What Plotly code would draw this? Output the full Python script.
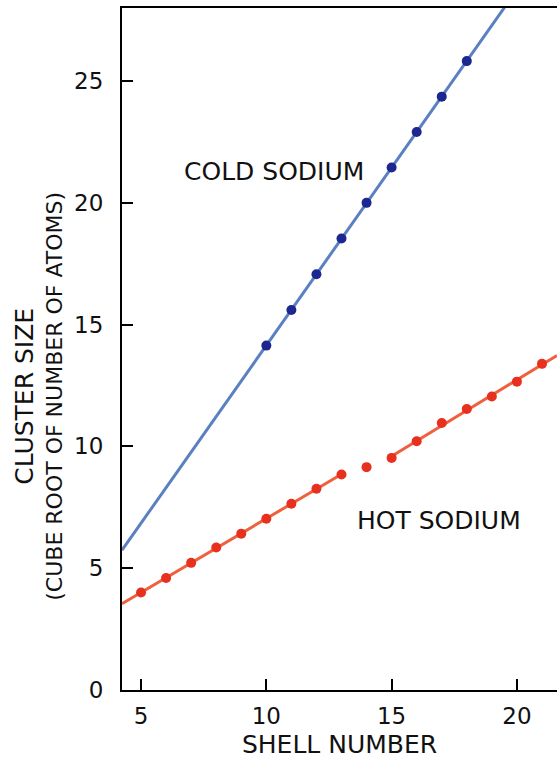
import numpy as np
import plotly.graph_objects as go

# Data
cold_shell = [10, 11, 12, 13, 14, 15, 16, 17, 18]
cold_size = [14.14, 15.6, 17.07, 18.54, 20.0, 21.45, 22.91, 24.36, 25.82]

hot_shell = [5, 6, 7, 8, 9, 10, 11, 12, 13, 14, 15, 16, 17, 18, 19, 20, 21]
hot_size = [4.0, 4.6, 5.22, 5.85, 6.42, 7.03, 7.65, 8.26, 8.85, 9.15,
            9.53, 10.21, 10.96, 11.54, 12.05, 12.66, 13.39]

x_ticks = [5, 10, 15, 20]
y_ticks = [0, 5, 10, 15, 20, 25]

X_RANGE = [4.24, 21.6]
Y_RANGE = [0, 28]

COLD_LINE = "#5b80c2"
COLD_MARK = "#1c2790"
HOT_LINE = "#f0603c"
HOT_MARK = "#e8301f"
FONT = "DejaVu Sans"
TXT = "#111111"

fig = go.Figure()

# Fitted lines (computed from the data)
c_fit = np.polyfit(cold_shell, cold_size, 1)
cx = np.array(X_RANGE)
fig.add_trace(go.Scatter(x=cx, y=np.polyval(c_fit, cx), mode="lines",
                         line=dict(color=COLD_LINE, width=3), hoverinfo="skip"))

hs = np.array(hot_shell)
hv = np.array(hot_size)
seg1 = hs <= 13
seg2 = hs >= 15
h1 = np.polyfit(hs[seg1], hv[seg1], 1)
h2 = np.polyfit(hs[seg2], hv[seg2], 1)
x1 = np.array([X_RANGE[0], hs[seg1].max()])
x2 = np.array([hs[seg2].min(), X_RANGE[1]])
fig.add_trace(go.Scatter(x=x1, y=np.polyval(h1, x1), mode="lines",
                         line=dict(color=HOT_LINE, width=3), hoverinfo="skip"))
fig.add_trace(go.Scatter(x=x2, y=np.polyval(h2, x2), mode="lines",
                         line=dict(color=HOT_LINE, width=3), hoverinfo="skip"))

fig.add_trace(go.Scatter(x=cold_shell, y=cold_size, mode="markers",
                         marker=dict(color=COLD_MARK, size=10)))
fig.add_trace(go.Scatter(x=hot_shell, y=hot_size, mode="markers",
                         marker=dict(color=HOT_MARK, size=10)))

fig.add_annotation(x=10.32, y=21.3, text="COLD SODIUM", showarrow=False,
                   font=dict(family=FONT, size=25, color=TXT))
fig.add_annotation(x=16.88, y=6.97, text="HOT SODIUM", showarrow=False,
                   font=dict(family=FONT, size=25, color=TXT))

# Y axis title (two lines)
fig.add_annotation(xref="paper", yref="paper", x=0, y=0.43, xshift=-97,
                   xanchor="center", yanchor="middle",
                   text="CLUSTER SIZE", textangle=-90, showarrow=False,
                   font=dict(family=FONT, size=25, color=TXT))
fig.add_annotation(xref="paper", yref="paper", x=0, y=0.43, xshift=-67,
                   xanchor="center", yanchor="middle",
                   text="(CUBE ROOT OF NUMBER OF ATOMS)", textangle=-90, showarrow=False,
                   font=dict(family=FONT, size=22, color=TXT))

fig.update_layout(
    width=557, height=767,
    margin=dict(l=122, r=0, t=8, b=77),
    paper_bgcolor="white", plot_bgcolor="white",
    showlegend=False,
    font=dict(family=FONT, size=23, color=TXT),
    xaxis=dict(range=X_RANGE, tickvals=x_ticks, ticks="inside", ticklen=11,
               tickwidth=2, tickcolor="black", showline=True, linecolor="black",
               linewidth=2, mirror=True, showgrid=False, zeroline=False,
               ticklabelstandoff=4, tickfont=dict(family=FONT, size=23, color=TXT),
               title=dict(text="SHELL NUMBER", standoff=8,
                          font=dict(family=FONT, size=25, color=TXT))),
    yaxis=dict(range=Y_RANGE, tickvals=y_ticks, ticks="inside", ticklen=11,
               tickwidth=2, tickcolor="black", showline=True, linecolor="black",
               linewidth=2, showgrid=False, zeroline=False,
               ticklabelstandoff=12, tickfont=dict(family=FONT, size=23, color=TXT)),
)

fig.write_html("out.html", config={"displayModeBar": False},
               post_script="document.body.style.margin='0';document.body.style.overflow='hidden';")
